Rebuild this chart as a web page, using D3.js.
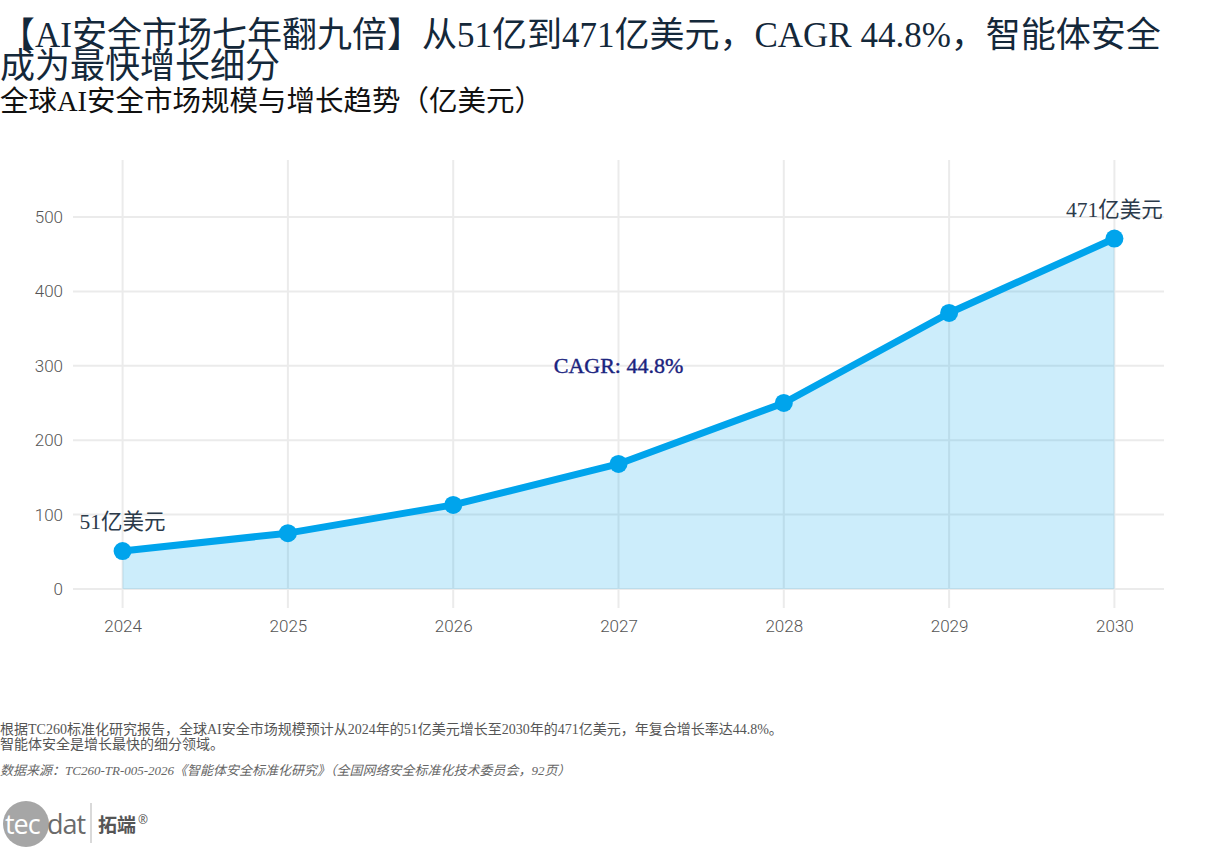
<!DOCTYPE html>
<html><head><meta charset="utf-8">
<script src="https://cdn.jsdelivr.net/npm/d3@7"></script>
<style>
body{margin:0;background:#fff;}
svg{display:block;}
</style></head>
<body>
<svg id="chart" width="1216" height="851"></svg>
<script>
const years = [2024, 2025, 2026, 2027, 2028, 2029, 2030];
const marketSize = [51, 75, 113, 168, 250, 371, 471];
const yTicks = [0, 100, 200, 300, 400, 500];
const titleLines = ["【AI安全市场七年翻九倍】从51亿到471亿美元，CAGR 44.8%，智能体安全", "成为最快增长细分"];
const subtitle = "全球AI安全市场规模与增长趋势（亿美元）";
const startLabel = "51亿美元";
const endLabel = "471亿美元";
const cagrLabel = "CAGR: 44.8%";
const cagrPos = {year: 2027, value: 300};
const captionLines = ["根据TC260标准化研究报告，全球AI安全市场规模预计从2024年的51亿美元增长至2030年的471亿美元，年复合增长率达44.8%。", "智能体安全是增长最快的细分领域。"];
const sourceText = "数据来源：TC260-TR-005-2026《智能体安全标准化研究》（全国网络安全标准化技术委员会，92页）";

const svg = d3.select("#chart");
const serif = "'Liberation Serif','DejaVu Serif','Noto Sans CJK SC',serif";
const panel = {left: 73, right: 1164, top: 160, bottom: 608};

const x = d3.scaleLinear().domain([2023.7, 2030.3]).range([panel.left, panel.right]);
const y = d3.scaleLinear().domain([-25.6, 576.6]).range([panel.bottom, panel.top]);

// grid
const g = svg.append("g");
g.selectAll(".hg").data(yTicks).join("line")
  .attr("x1", panel.left).attr("x2", panel.right)
  .attr("y1", d => y(d)).attr("y2", d => y(d))
  .attr("stroke", "#ebebeb").attr("stroke-width", 2);
g.selectAll(".vg").data(years).join("line")
  .attr("x1", d => x(d)).attr("x2", d => x(d))
  .attr("y1", panel.top).attr("y2", panel.bottom)
  .attr("stroke", "#ebebeb").attr("stroke-width", 2);

// axes (text only)
const yAxis = d3.axisLeft(y).tickValues(yTicks).tickSize(0).tickPadding(10);
const ya = svg.append("g").attr("transform", `translate(${panel.left},0)`).call(yAxis);
ya.select(".domain").remove();
ya.selectAll("text").attr("font-family", "Roboto, sans-serif").attr("font-weight", 300)
  .attr("font-size", 17).attr("fill", "#555");

const xAxis = d3.axisBottom(x).tickValues(years).tickFormat(d3.format("d")).tickSize(0).tickPadding(12);
const xa = svg.append("g").attr("transform", `translate(0,${panel.bottom})`).call(xAxis);
xa.select(".domain").remove();
xa.selectAll("text").attr("font-family", "Roboto, sans-serif").attr("font-weight", 300)
  .attr("font-size", 17).attr("fill", "#555");

const data = years.map((yr, i) => ({yr, v: marketSize[i]}));

// area
svg.append("path").datum(data)
  .attr("d", d3.area().x(d => x(d.yr)).y0(y(0)).y1(d => y(d.v)))
  .attr("fill", "#00a4ec").attr("fill-opacity", 0.2);

// line
svg.append("path").datum(data)
  .attr("d", d3.line().x(d => x(d.yr)).y(d => y(d.v)))
  .attr("fill", "none").attr("stroke", "#00a4ec").attr("stroke-width", 7)
  .attr("stroke-linejoin", "round");

svg.selectAll(".pt").data(data).join("circle")
  .attr("cx", d => x(d.yr)).attr("cy", d => y(d.v)).attr("r", 9)
  .attr("fill", "#00a4ec");

// labels
svg.append("text").attr("x", x(years[0])).attr("y", y(marketSize[0]) - 22)
  .attr("text-anchor", "middle").attr("font-family", serif).attr("font-size", 21.5)
  .attr("fill", "#2b3a4a").text(startLabel);
svg.append("text").attr("x", x(years[6])).attr("y", y(marketSize[6]) - 22)
  .attr("text-anchor", "middle").attr("font-family", serif).attr("font-size", 21.5)
  .attr("fill", "#2b3a4a").text(endLabel);
svg.append("text").attr("x", x(cagrPos.year)).attr("y", y(cagrPos.value))
  .attr("text-anchor", "middle").attr("dominant-baseline", "central")
  .attr("font-family", serif).attr("font-size", 22)
  .attr("fill", "#1a237e").attr("stroke", "#1a237e").attr("stroke-width", 0.4)
  .text(cagrLabel);

// titles
svg.selectAll(".title").data(titleLines).join("text")
  .attr("x", 0).attr("y", (d, i) => 47 + i * 31)
  .attr("font-family", serif).attr("font-size", 35).attr("fill", "#14283a")
  .text(d => d);
svg.append("text").attr("x", 0).attr("y", 111)
  .attr("font-family", serif).attr("font-size", 28.5).attr("fill", "#111")
  .text(subtitle);

// caption
svg.selectAll(".cap").data(captionLines).join("text")
  .attr("x", 0).attr("y", (d, i) => 734 + i * 15)
  .attr("font-family", serif).attr("font-size", 14).attr("fill", "#555")
  .text(d => d);
svg.append("text").attr("x", 0).attr("y", 775)
  .attr("font-family", serif).attr("font-size", 13).attr("font-style", "italic")
  .attr("fill", "#666").text(sourceText);

// logo
const logo = svg.append("g");
logo.append("circle").attr("cx", 26).attr("cy", 824).attr("r", 23).attr("fill", "#a6a6a6");
logo.append("text").attr("x", 5).attr("y", 834).attr("font-family", "'Open Sans',sans-serif")
  .attr("font-size", 27).attr("fill", "#fff").attr("letter-spacing", -1).text("tec");
logo.append("text").attr("x", 47).attr("y", 834).attr("font-family", "'Open Sans',sans-serif")
  .attr("font-size", 27).attr("fill", "#6b6b6b").attr("letter-spacing", -1).text("dat");
logo.append("line").attr("x1", 91).attr("x2", 91).attr("y1", 803).attr("y2", 843)
  .attr("stroke", "#ccc").attr("stroke-width", 1.5);
logo.append("text").attr("x", 98).attr("y", 832).attr("font-family", "'Noto Sans CJK SC',sans-serif")
  .attr("font-size", 19).attr("font-weight", "bold").attr("fill", "#555").text("拓端");
logo.append("text").attr("x", 138).attr("y", 824).attr("font-family", "'Open Sans',sans-serif")
  .attr("font-size", 12).attr("fill", "#555").text("®");
</script>
</body></html>
